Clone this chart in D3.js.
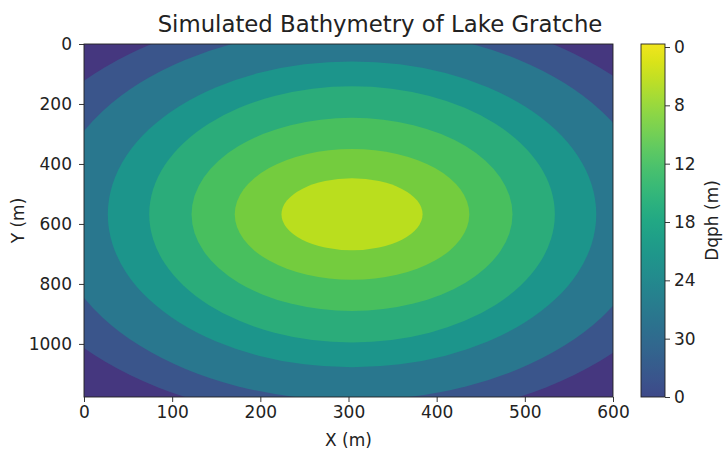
<!DOCTYPE html>
<html>
<head>
<meta charset="utf-8">
<script src="https://cdn.jsdelivr.net/npm/d3@7"></script>
<style>
  body { margin: 0; background: #fff; }
  text { font-family: "DejaVu Sans", sans-serif; fill: #222; }
  .axis path, .axis line { stroke: #222; stroke-width: 0.9px; }
</style>
</head>
<body>
<div id="viz"></div>
<script>
// Contour boundaries: semi-axes (m) of each level ellipse,
// outermost first, all around the same lake centre.
const lakeCentre = [304, 568];
const levelRx = [397, 340, 277, 230, 182, 133, 80];
const levelRy = [693, 620, 510, 427, 322, 218, 120];
// fill of the region outside the first ellipse, then inside each ellipse
const bandColors = ["#45377f", "#3a558b", "#29778e", "#1c958b", "#2bac7a", "#48bf5e", "#74cc3e", "#bade1e"];

const xTicks = [0, 100, 200, 300, 400, 500, 600];
const yTicks = [0, 200, 400, 600, 800, 1000];
const cbarLabels = ["0", "8", "12", "18", "24", "30", "0"];

const width = 724;
const height = 455;
const plot = { left: 84, right: 613, top: 44, bottom: 397 };

const svg = d3.select("#viz")
  .append("svg")
    .attr("width", width)
    .attr("height", height);

const x = d3.scaleLinear()
  .domain([0, 600])
  .range([plot.left, plot.right]);

const y = d3.scaleLinear()
  .domain([0, 1177])
  .range([plot.top, plot.bottom]);

svg.append("clipPath")
  .attr("id", "clip")
  .append("rect")
    .attr("x", plot.left)
    .attr("y", plot.top)
    .attr("width", plot.right - plot.left)
    .attr("height", plot.bottom - plot.top);

const field = svg.append("g").attr("clip-path", "url(#clip)");

field.append("rect")
  .attr("x", x(0))
  .attr("y", y(0))
  .attr("width", x(600) - x(0))
  .attr("height", y(1177) - y(0))
  .attr("fill", bandColors[0]);

const levels = levelRx.map((rx, i) => ({ rx, ry: levelRy[i], color: bandColors[i + 1] }));

field.selectAll("ellipse")
  .data(levels)
  .join("ellipse")
    .attr("cx", x(lakeCentre[0]))
    .attr("cy", y(lakeCentre[1]))
    .attr("rx", d => x(lakeCentre[0] + d.rx) - x(lakeCentre[0]))
    .attr("ry", d => y(lakeCentre[1] + d.ry) - y(lakeCentre[1]))
    .attr("fill", d => d.color);

// frame
svg.append("rect")
  .attr("x", plot.left)
  .attr("y", plot.top)
  .attr("width", plot.right - plot.left)
  .attr("height", plot.bottom - plot.top)
  .attr("fill", "none")
  .attr("stroke", "#222")
  .attr("stroke-width", 0.9);

svg.append("g")
  .attr("class", "axis")
  .attr("transform", `translate(0,${plot.bottom})`)
  .call(d3.axisBottom(x).tickValues(xTicks).tickSize(5).tickPadding(4).tickFormat(d3.format("d")))
  .call(g => g.select(".domain").remove())
  .selectAll("text").style("font-size", "17px").style("font-family", "DejaVu Sans");

svg.append("g")
  .attr("class", "axis")
  .attr("transform", `translate(${plot.left},0)`)
  .call(d3.axisLeft(y).tickValues(yTicks).tickSize(5).tickPadding(7).tickFormat(d3.format("d")))
  .call(g => g.select(".domain").remove())
  .selectAll("text").style("font-size", "17px").style("font-family", "DejaVu Sans");

svg.append("text")
  .attr("x", 380)
  .attr("y", 32)
  .attr("text-anchor", "middle")
  .style("font-size", "22.8px")
  .text("Simulated Bathymetry of Lake Gratche");

svg.append("text")
  .attr("x", (plot.left + plot.right) / 2)
  .attr("y", 446)
  .attr("text-anchor", "middle")
  .style("font-size", "17px")
  .text("X (m)");

svg.append("text")
  .attr("transform", `translate(24,${(plot.top + plot.bottom) / 2}) rotate(-90)`)
  .attr("text-anchor", "middle")
  .style("font-size", "17px")
  .text("Y (m)");

// colorbar
const cbar = { left: 641, right: 665 };
const defs = svg.append("defs");
const grad = defs.append("linearGradient")
  .attr("id", "cbarGrad")
  .attr("x1", 0).attr("y1", 1).attr("x2", 0).attr("y2", 0);
d3.range(0, 1.0001, 0.05).forEach(t => {
  grad.append("stop")
    .attr("offset", t)
    .attr("stop-color", d3.interpolateViridis(0.22 + t * 0.76));
});

svg.append("rect")
  .attr("x", cbar.left)
  .attr("y", plot.top)
  .attr("width", cbar.right - cbar.left)
  .attr("height", plot.bottom - plot.top)
  .attr("fill", "url(#cbarGrad)")
  .attr("stroke", "#222")
  .attr("stroke-width", 0.9);

const cb = d3.scalePoint()
  .domain(d3.range(cbarLabels.length))
  .range([plot.bottom, plot.top + 3]);

svg.append("g")
  .attr("class", "axis")
  .attr("transform", `translate(${cbar.right},0)`)
  .call(d3.axisRight(cb).tickSize(5).tickPadding(4).tickFormat(i => cbarLabels[cbarLabels.length - 1 - i]))
  .call(g => g.select(".domain").remove())
  .selectAll("text").style("font-size", "17px").style("font-family", "DejaVu Sans");

svg.append("text")
  .attr("transform", `translate(718,${(plot.top + plot.bottom) / 2}) rotate(-90)`)
  .attr("text-anchor", "middle")
  .style("font-size", "17px")
  .text("Dqph (m)");
</script>
</body>
</html>
